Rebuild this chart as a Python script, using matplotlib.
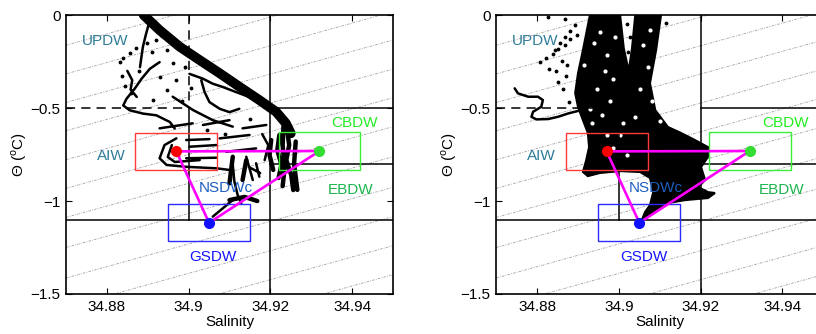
import matplotlib
matplotlib.use('Agg')
import matplotlib.pyplot as plt
from matplotlib.patches import Rectangle

nan = float('nan')

plt.rcParams['font.family'] = ['Liberation Sans', 'DejaVu Sans']
plt.rcParams['font.size'] = 11
plt.rcParams['mathtext.fontset'] = 'custom'
plt.rcParams['mathtext.rm'] = 'Liberation Sans'

S_lim = [34.87, 34.95]
T_lim = [-1.5, 0]
S_ticks = [34.88, 34.90, 34.92, 34.94]
S_ticklabels = ['34.88', '34.9', '34.92', '34.94']
T_ticks = [0, -0.5, -1, -1.5]
T_ticklabels = ['0', '\u22120.5', '\u22121', '\u22121.5']

# isopycnals: theta where each one crosses S = 34.87, and their slope dT/dS
iso_T0 = [0.15, -0.006, -0.162, -0.316, -0.470, -0.622, -0.778, -0.932, -1.088,
          -1.250, -1.414, -1.572, -1.728, -1.884, -2.04]
iso_slope = 6.1

# end members (AIW, CBDW, GSDW)
em_S = [34.897, 34.932, 34.905]
em_T = [-0.733, -0.731, -1.117]
em_colors = ['#ff0000', '#33dd33', '#1010ff']
box_colors = ['#ff3a3a', '#3aee3a', '#2b2bff']

label_names = ['UPDW', 'AIW', 'NSDWc', 'CBDW', 'EBDW', 'GSDW']
label_S = [34.8795, 34.881, 34.909, 34.9407, 34.9397, 34.906]
label_T = [-0.138, -0.758, -0.928, -0.579, -0.941, -1.303]
label_colors = ['#2f7c99', '#2f7c99', '#1d5fbf', '#22ee22', '#1db54e', '#1515ff']

# ---- panel 1 data (nan separates traces)
p1_band_S = [34.8890, 34.8929, 34.8978, 34.9027, 34.9076, 34.9124, 34.9173, 34.9214, 34.9238, 34.9250]
p1_band_T = [0.0, -0.081, -0.170, -0.242, -0.313, -0.385, -0.457, -0.520, -0.582, -0.636]

p1_thick_S = [34.9241, 34.9246, 34.9239, 34.9251, 34.9256, nan,
              34.9222, 34.9217, 34.9227, 34.9220, nan,
              34.9202, 34.9198, 34.9207, nan,
              34.9262, 34.9258, 34.9266, nan,
              34.9232, 34.9230, 34.9235, 34.9230, nan,
              34.9100, 34.9137, 34.9168, nan,
              34.9108, 34.9100, nan, 34.9141, 34.9132]
p1_thick_T = [-0.618, -0.699, -0.780, -0.860, -0.941, nan,
              -0.645, -0.726, -0.806, -0.876, nan,
              -0.672, -0.753, -0.833, nan,
              -0.680, -0.800, -0.940, nan,
              -0.600, -0.700, -0.820, -0.920, nan,
              -0.995, -0.978, -1.000, nan,
              -0.762, -0.905, nan, -0.780, -0.887]

p1_thin_S = [34.8929, 34.8905, 34.8885, 34.8868, 34.8848, 34.8840, 34.8856, 34.8889, 34.8921, 34.8954, 34.8966, nan,
             34.8905, 34.8895, 34.8888, 34.8881, nan,
             34.9002, 34.9035, 34.9059, 34.9084, 34.9116, 34.9149, 34.9181, 34.9214, nan,
             34.9031, 34.9039, 34.9051, 34.9076, 34.9100, 34.9124, nan,
             34.8961, 34.9011, 34.9059, 34.9108, nan,
             34.8994, 34.9051, nan, 34.9002, 34.9068, nan, 34.8994, 34.9068, nan,
             34.9076, 34.9149, nan, 34.9092, 34.9165, nan, 34.9132, 34.9190, nan,
             34.8929, 34.9010, nan, 34.9035, 34.9100, nan,
             34.8970, 34.8941, 34.8929, 34.8946, 34.8994, 34.9068, 34.9100, nan,
             34.8959, 34.8949, 34.8966, 34.9027, nan,
             34.9108, 34.9112, 34.9120, 34.9129, nan,
             34.9141, 34.9157, nan, 34.9165, 34.9173, nan,
             34.9059, 34.9108, nan,
             34.8850, 34.8862, 34.8858, 34.8873, nan,
             34.9180, 34.9195, 34.9186, nan, 34.9150, 34.9175, nan]
p1_thin_T = [-0.253, -0.289, -0.342, -0.396, -0.450, -0.486, -0.512, -0.530, -0.539, -0.575, -0.610, nan,
             -0.027, -0.108, -0.172, -0.280, nan,
             -0.316, -0.342, -0.369, -0.387, -0.414, -0.441, -0.477, -0.512, nan,
             -0.351, -0.414, -0.468, -0.504, -0.522, -0.504, nan,
             -0.439, -0.511, -0.565, -0.600, nan,
             -0.672, -0.667, nan, -0.708, -0.699, nan, -0.770, -0.767, nan,
             -0.663, -0.645, nan, -0.735, -0.717, nan, -0.609, -0.591, nan,
             -0.609, -0.582, nan, -0.591, -0.565, nan,
             -0.663, -0.699, -0.770, -0.806, -0.816, -0.824, -0.833, nan,
             -0.699, -0.763, -0.790, -0.780, nan,
             -0.806, -0.896, -0.968, -1.012, nan,
             -0.762, -0.887, nan, -0.797, -0.869, nan,
             -1.084, -0.995, nan,
             -0.300, -0.350, -0.400, -0.440, nan,
             -0.640, -0.700, -0.780, nan, -0.820, -0.850, nan]

p1_dots_S = [34.8832, 34.8840, 34.8856, 34.8872, 34.8897, 34.8921, 34.8946, 34.8962, 34.8970,
             34.8946, 34.8929, 34.8913, 34.8990, 34.9005, 34.8985, 34.9045, 34.9090, 34.9150,
             34.8845, 34.8860, 34.8878, 34.8836, 34.8910, 34.8935]
p1_dots_T = [-0.251, -0.233, -0.206, -0.179, -0.152, -0.134, -0.188, -0.260, -0.349,
             -0.403, -0.332, -0.457, -0.280, -0.390, -0.460, -0.620, -0.640, -0.560,
             -0.380, -0.420, -0.300, -0.330, -0.200, -0.110]

# ---- panel 2 data
p2_blob_S = [34.8929, 34.9003, 34.9012, 34.9024, 34.9032, 34.9040, 34.9103, 34.9091, 34.9076,
             34.9089, 34.9120, 34.9152, 34.9186, 34.9218, 34.9218, 34.9201, 34.9211, 34.9194,
             34.9218, 34.9235, 34.9218, 34.9162, 34.9120, 34.9089, 34.9054, 34.9064, 34.9076,
             34.9084, 34.9076, 34.9052, 34.9003, 34.8954, 34.8924, 34.8912, 34.8920, 34.8927,
             34.8924, 34.8912, 34.8900, 34.8893, 34.8900, 34.8912]
p2_blob_T = [0.0, 0.0, -0.180, -0.300, -0.180, 0.0, 0.0, -0.188, -0.366,
             -0.511, -0.602, -0.634, -0.672, -0.710, -0.763, -0.817, -0.887, -0.925,
             -0.952, -0.957, -0.984, -0.995, -1.011, -1.048, -1.113, -1.059, -1.022,
             -0.952, -0.876, -0.844, -0.839, -0.849, -0.866, -0.844, -0.780, -0.710,
             -0.634, -0.565, -0.495, -0.419, -0.312, -0.188]

# white gaps inside the dense cloud
p2_holes_S = [34.8954, 34.8970, 34.8946, 34.8986, 34.8929, 34.8940, 34.8965, 34.8915, 34.8990,
              34.8978, 34.8935, 34.8958, 34.9059, 34.9052, 34.9075, 34.9070, 34.9080,
              34.8970, 34.9003, 34.9019, 34.8986, 34.9010, 34.9040, 34.9100]
p2_holes_T = [-0.091, -0.217, -0.396, -0.342, -0.504, -0.150, -0.300, -0.270, -0.120,
              -0.460, -0.580, -0.540, -0.161, -0.396, -0.080, -0.280, -0.460,
              -0.645, -0.645, -0.753, -0.715, -0.580, -0.550, -0.570]

p2_thin_S = [34.8745, 34.8753, 34.8778, 34.8802, 34.8814, 34.8810, 34.8790, 34.8786, 34.8798,
             34.8827, 34.8851, 34.8876, 34.8908]
p2_thin_T = [-0.394, -0.421, -0.439, -0.439, -0.457, -0.493, -0.520, -0.547, -0.561,
             -0.559, -0.547, -0.529, -0.511]

p2_dots_S = [34.8807, 34.8821, 34.8838, 34.8851, 34.8869, 34.8880, 34.8897,
             34.8843, 34.8856, 34.8868, 34.8881, 34.8892,
             34.8830, 34.8845, 34.8860, 34.8870, 34.8862, 34.8878, 34.8850, 34.8873,
             34.8827, 34.8868, 34.9020, 34.9028, 34.9022, 34.9115]
p2_dots_T = [-0.253, -0.230, -0.207, -0.182, -0.160, -0.131, -0.109,
             -0.188, -0.150, -0.118, -0.087, -0.054,
             -0.290, -0.300, -0.245, -0.330, -0.400, -0.470, -0.360, -0.270,
             -0.012, -0.020, -0.050, -0.120, -0.200, -0.040]


def draw_panel(ax):
    for t0 in iso_T0:
        ax.plot(S_lim, [t0, t0 + iso_slope * (S_lim[1] - S_lim[0])],
                color='#a0a0a0', lw=0.6, ls=(0, (3, 1.5, 1, 1.5)), zorder=1)

    kw = dict(color='k', lw=1.1, zorder=4)
    ax.plot([34.90, 34.90], [0, -0.5], ls=(0, (6, 4)), **kw)
    ax.plot([34.90, 34.90], [-0.5, -1.1], **kw)
    ax.plot([34.87, 34.90], [-0.5, -0.5], ls=(0, (6, 4)), **kw)
    ax.plot([34.92, 34.92], [0, -1.5], **kw)
    ax.plot([34.92, 34.95], [-0.5, -0.5], **kw)
    ax.plot([34.92, 34.95], [-0.8, -0.8], **kw)
    ax.plot([34.87, 34.95], [-1.1, -1.1], **kw)

    for s, t, c in zip(em_S, em_T, box_colors):
        ax.add_patch(Rectangle((s - 0.01, t - 0.1), 0.02, 0.2, fill=False,
                               edgecolor=c, lw=1.0, zorder=5))
    ax.plot(em_S + em_S[:1], em_T + em_T[:1], color='#ff00ff', lw=1.9, zorder=6)
    for s, t, c in zip(em_S, em_T, em_colors):
        ax.plot(s, t, 'o', color=c, ms=7, zorder=7)

    for name, s, t, c in zip(label_names, label_S, label_T, label_colors):
        ax.text(s, t, name, color=c, ha='center', va='center', fontsize=11, zorder=8)

    ax.set_xlim(S_lim)
    ax.set_ylim(T_lim)
    ax.set_xticks(S_ticks)
    ax.set_xticklabels(S_ticklabels)
    ax.set_yticks(T_ticks)
    ax.set_yticklabels(T_ticklabels)
    ax.tick_params(direction='in', length=4, width=0.8, top=True, right=True, pad=4)
    for sp in ax.spines.values():
        sp.set_linewidth(1.2)
    ax.set_xlabel('Salinity', labelpad=1)
    ax.set_ylabel('\u0398 ($^{\\rm o}$C)', labelpad=1)


fig = plt.figure(figsize=(8.16, 3.34), dpi=100)
ax1 = fig.add_axes([0.0809, 0.1198, 0.4007, 0.835])
ax2 = fig.add_axes([0.6082, 0.1198, 0.4007, 0.835])

ax1.plot(p1_band_S, p1_band_T, color='k', lw=7, solid_capstyle='round', zorder=3)
ax1.plot(p1_thick_S, p1_thick_T, color='k', lw=3.2, solid_capstyle='round', zorder=3)
ax1.plot(p1_thin_S, p1_thin_T, color='k', lw=1.8, solid_capstyle='round', zorder=3)
ax1.plot(p1_dots_S, p1_dots_T, 'k.', ms=3.5, zorder=3)

ax2.fill(p2_blob_S, p2_blob_T, color='k', lw=1.5, zorder=3)
ax2.plot(p2_holes_S, p2_holes_T, 'o', color='w', ms=3, mew=0, zorder=3.2)
ax2.plot(p2_thin_S, p2_thin_T, color='k', lw=1.8, solid_capstyle='round', zorder=3)
ax2.plot(p2_dots_S, p2_dots_T, 'k.', ms=3.5, zorder=3)

draw_panel(ax1)
draw_panel(ax2)

fig.savefig('out.png', dpi=100)
